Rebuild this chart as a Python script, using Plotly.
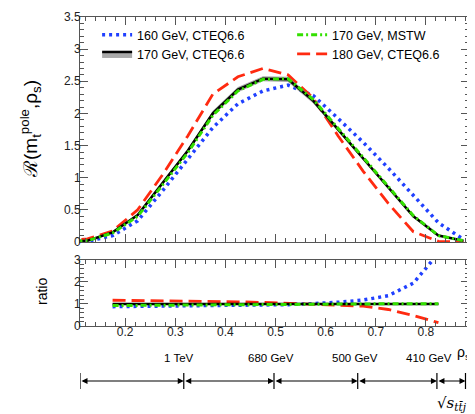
import plotly.graph_objects as go

# ---------------- data ----------------
rho = [0.075, 0.125, 0.175, 0.225, 0.275, 0.325, 0.375, 0.425, 0.475,
       0.525, 0.575, 0.625, 0.675, 0.725, 0.775, 0.825, 0.875]
r160 = [0.0, 0.01, 0.10, 0.33, 0.80, 1.28, 1.78, 2.15, 2.35,
        2.44, 2.28, 1.92, 1.55, 1.15, 0.72, 0.30, 0.04]
r170 = [0.0, 0.02, 0.15, 0.42, 0.92, 1.42, 2.00, 2.37, 2.54,
        2.53, 2.20, 1.75, 1.30, 0.85, 0.40, 0.10, 0.02]
r170_lo = [0.0, 0.02, 0.145, 0.41, 0.90, 1.39, 1.96, 2.33, 2.50,
           2.49, 2.16, 1.72, 1.27, 0.83, 0.39, 0.095, 0.02]
r170_hi = [0.0, 0.02, 0.155, 0.43, 0.94, 1.45, 2.04, 2.41, 2.58,
           2.57, 2.24, 1.78, 1.33, 0.87, 0.41, 0.105, 0.02]
r170_mstw = [0.0, 0.02, 0.14, 0.40, 0.89, 1.39, 1.97, 2.35, 2.53,
             2.54, 2.22, 1.77, 1.32, 0.86, 0.41, 0.10, 0.02]
r180 = [0.02, 0.05, 0.17, 0.50, 1.05, 1.65, 2.30, 2.57, 2.70,
        2.60, 2.24, 1.65, 1.10, 0.60, 0.16, 0.01, 0.0]

rho_ratio = [0.175, 0.225, 0.275, 0.325, 0.375, 0.425, 0.475,
             0.525, 0.575, 0.625, 0.675, 0.725, 0.775, 0.825]
ratio160 = [0.88, 0.89, 0.90, 0.90, 0.91, 0.92, 0.94,
            0.97, 1.02, 1.08, 1.18, 1.38, 1.95, 3.30]
ratio170 = [1.0] * 14
ratio170_lo = [0.97] * 14
ratio170_hi = [1.03] * 14
ratio_mstw = [0.93, 0.94, 0.95, 0.96, 0.97, 0.98, 0.99,
              1.0, 1.0, 1.01, 1.01, 1.01, 1.01, 1.01]
ratio180 = [1.17, 1.16, 1.15, 1.13, 1.12, 1.10, 1.07,
            1.03, 1.0, 0.97, 0.90, 0.75, 0.48, 0.15]

names = ["160 GeV, CTEQ6.6", "170 GeV, CTEQ6.6", "170 GeV, MSTW", "180 GeV, CTEQ6.6"]

# sqrt(s) bins (rho_s boundaries) and labels
bin_edges = [0.11, 0.317, 0.497, 0.664, 0.822, 0.879]
energy_labels = ["1 TeV", "680 GeV", "500 GeV", "410 GeV"]
label_pos = [0.307, 0.492, 0.659, 0.807]

BLUE = "#2040ff"
GREEN = "#33e000"
RED = "#ff2a10"
GRAY = "rgba(140,140,140,0.75)"
FONT = "Liberation Sans, Arial"

fig = go.Figure()

def add_set(x, y160, y170lo, y170, y170hi, ymstw, y180, xa, ya, legend):
    fig.add_trace(go.Scatter(x=x, y=y160, mode="lines", name=names[0], xaxis=xa, yaxis=ya,
                             line=dict(color=BLUE, width=3.5, dash="3px,4px"),
                             showlegend=legend, legendrank=1))
    fig.add_trace(go.Scatter(x=x, y=y180, mode="lines", name=names[3], xaxis=xa, yaxis=ya,
                             line=dict(color=RED, width=2.8, dash="13px,6px"),
                             showlegend=legend, legendrank=4))
    fig.add_trace(go.Scatter(x=x, y=y170lo, mode="lines", xaxis=xa, yaxis=ya,
                             line=dict(width=0, color=GRAY), showlegend=False, hoverinfo="skip"))
    fig.add_trace(go.Scatter(x=x, y=y170, mode="lines", name=names[1], xaxis=xa, yaxis=ya,
                             line=dict(color="black", width=2.5), fill="tonexty", fillcolor=GRAY,
                             showlegend=legend, legendrank=3))
    fig.add_trace(go.Scatter(x=x, y=y170hi, mode="lines", xaxis=xa, yaxis=ya,
                             line=dict(width=0, color=GRAY), fill="tonexty", fillcolor=GRAY,
                             showlegend=False, hoverinfo="skip"))
    fig.add_trace(go.Scatter(x=x, y=ymstw, mode="lines", name=names[2], xaxis=xa, yaxis=ya,
                             line=dict(color=GREEN, width=3, dash="6px,3px,2px,3px"),
                             showlegend=legend, legendrank=2))

add_set(rho, r160, r170_lo, r170, r170_hi, r170_mstw, r180, "x", "y", True)
add_set(rho_ratio, ratio160, ratio170_lo, ratio170, ratio170_hi, ratio_mstw, ratio180, "x2", "y2", False)

AX = dict(showline=True, linecolor="#555", linewidth=1, mirror="allticks",
          ticks="inside", ticklen=8, tickcolor="#555", showgrid=False, zeroline=False,
          automargin=False,
          tickfont=dict(family=FONT, size=12, color="#222"))
MINOR = dict(ticklen=4, ticks="inside", tickcolor="#555")
XR = [0.11, 0.886]

# the page has an 8px body margin, so the figure is 8px smaller and margins shifted
fig.update_layout(
    width=467, height=406,
    margin=dict(l=72, r=6, t=9, b=88, autoexpand=False),
    paper_bgcolor="white", plot_bgcolor="white",
    font=dict(family=FONT, size=13, color="black"),
    xaxis=dict(domain=[0, 1], range=XR, anchor="y", showticklabels=False,
               dtick=0.1, tick0=0.0, minor=dict(dtick=0.02, **MINOR), **AX),
    yaxis=dict(domain=[0.2718, 1], range=[0, 3.5], anchor="x", dtick=0.5, ticklabelstandoff=-4,
               minor=dict(dtick=0.1, **MINOR), **AX),
    xaxis2=dict(domain=[0, 1], range=XR, anchor="y2", ticklabelstandoff=-5,
                dtick=0.1, tick0=0.0, minor=dict(dtick=0.02, **MINOR), **AX),
    yaxis2=dict(domain=[0, 0.2136], range=[0, 3], anchor="x2", dtick=1, ticklabelstandoff=-4,
                minor=dict(dtick=0.2, **MINOR), **AX),
    legend=dict(orientation="h", x=0.044, y=0.99, xanchor="left", yanchor="top",
                entrywidth=150, entrywidthmode="pixels", traceorder="normal",
                bgcolor="rgba(0,0,0,0)", font=dict(family=FONT, size=12.5),
                tracegroupgap=0, itemwidth=30),
)

ann = []
def txt(text, xp, yp, size, family=FONT, angle=0, xref="paper"):
    ann.append(dict(text=text, xref=xref, yref="paper", x=xp, y=yp, textangle=angle,
                    showarrow=False, xanchor="center", yanchor="middle",
                    font=dict(size=size, family=family)))

txt("ℛ(m<sub>t</sub><sup>pole</sup>,ρ<sub>s</sub>)", (30 - 80) / 389, (326 - 129) / 309, 19, angle=-90)
txt("ratio", (42 - 80) / 389, (326 - 292) / 309, 14, angle=-90)
txt("ρ<sub>s</sub>", (463 - 80) / 389, (326 - 353) / 309, 14)
txt("√<i>s</i><sub><i>tt̄j</i></sub>", (452 - 80) / 389, (326 - 404) / 309, 15, family="DejaVu Serif")
for lab, xp in zip(energy_labels, label_pos):
    txt(lab, xp, (326 - 358) / 309, 11.5, xref="x2")

y_arr = (326 - 381) / 309
for a, b in zip(bin_edges[:-1], bin_edges[1:]):
    ann.append(dict(x=b, y=y_arr, ax=a, ay=0, xref="x2", yref="paper", axref="x2", ayref="pixel",
                    text="", showarrow=True, arrowhead=2, arrowside="end+start", arrowsize=1,
                    arrowwidth=1.2, arrowcolor="black", standoff=0, startstandoff=0))
fig.update_layout(annotations=ann)

shapes = []
for e in bin_edges:
    shapes.append(dict(type="line", xref="x2", yref="paper", x0=e, x1=e,
                       y0=(326 - 373) / 309, y1=(326 - 389) / 309, line=dict(color="black", width=1.2)))
fig.update_layout(shapes=shapes)

fig.write_html("out.html")
